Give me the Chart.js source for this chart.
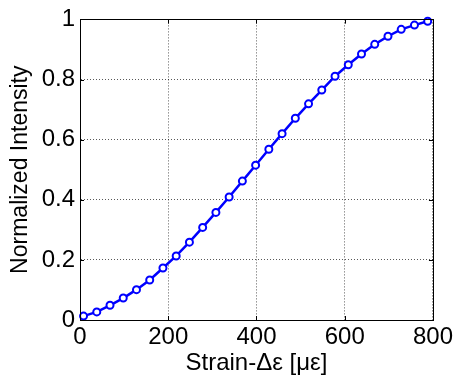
<!DOCTYPE html>
<html>
<head>
<meta charset="utf-8">
<script src="https://cdn.jsdelivr.net/npm/chart.js@4/dist/chart.umd.min.js"></script>
<style>
  html, body { margin: 0; padding: 0; background: #fff; }
  #wrap { width: 456px; height: 378px; }
</style>
</head>
<body>
<div id="wrap"><canvas id="c"></canvas></div>
<script>
// strain (µε) vs normalized intensity
const strain = [8, 38, 68, 98, 128, 158, 188, 218, 248, 278, 308, 338, 368, 398,
  428, 458, 488, 518, 548, 578, 608, 638, 668, 698, 728, 758, 788];
const intensity = [0.013, 0.027, 0.049, 0.073, 0.101, 0.133, 0.173, 0.213, 0.259,
  0.308, 0.358, 0.409, 0.462, 0.515, 0.568, 0.620, 0.671, 0.719, 0.765, 0.811,
  0.849, 0.885, 0.917, 0.944, 0.967, 0.981, 0.994];
const xTicks = [0, 200, 400, 600, 800];
const yTicks = [0, 0.2, 0.4, 0.6, 0.8, 1];

const BLUE = "#0000ff";
const FONT = { family: "'Liberation Sans', Arial, sans-serif", size: 24 };
const TITLE_FONT = { family: "'Liberation Sans', Arial, sans-serif", size: 23 };

// MATLAB-style box with inward tick marks
const boxPlugin = {
  id: "box",
  afterDatasetsDraw(chart) {
    const { ctx, chartArea: a, scales } = chart;
    ctx.save();
    ctx.strokeStyle = "#000";
    ctx.lineWidth = 1;
    ctx.setLineDash([]);
    ctx.strokeRect(Math.round(a.left) + 0.5, Math.round(a.top) + 0.5,
      Math.round(a.right - a.left), Math.round(a.bottom - a.top));
    ctx.beginPath();
    const len = 4;
    xTicks.forEach(v => {
      const x = Math.round(scales.x.getPixelForValue(v)) + 0.5;
      ctx.moveTo(x, a.bottom); ctx.lineTo(x, a.bottom - len);
      ctx.moveTo(x, a.top); ctx.lineTo(x, a.top + len);
    });
    yTicks.forEach(v => {
      const y = Math.round(scales.y.getPixelForValue(v)) + 0.5;
      ctx.moveTo(a.left, y); ctx.lineTo(a.left + len, y);
      ctx.moveTo(a.right, y); ctx.lineTo(a.right - len, y);
    });
    ctx.stroke();
    ctx.restore();
  },
  beforeDatasetsDraw(chart) {
    // redraw box before data too, so markers sit on top of it
    this.afterDatasetsDraw(chart);
  }
};

const gridOpts = { color: "rgba(0,0,0,0.65)", lineWidth: 1, drawTicks: false };
const borderOpts = { display: true, color: "#000", dash: [1, 2] };

new Chart(document.getElementById("c"), {
  type: "scatter",
  data: {
    datasets: [{
      data: strain.map((x, i) => ({ x, y: intensity[i] })),
      showLine: true,
      borderColor: BLUE,
      borderWidth: 2.5,
      pointRadius: 3.5,
      pointBorderWidth: 2,
      pointBackgroundColor: "#fff",
      pointBorderColor: BLUE,
      clip: false,
    }],
  },
  options: {
    responsive: true, maintainAspectRatio: false, animation: false,
    layout: { padding: { top: 15, right: 22, left: 0, bottom: 0 } },
    plugins: { legend: { display: false }, tooltip: { enabled: false } },
    scales: {
      x: {
        type: "linear", min: 0, max: 800,
        afterBuildTicks: s => { s.ticks = xTicks.map(v => ({ value: v })); },
        afterFit: s => { s.height = 58; },
        ticks: { color: "#000", font: FONT, padding: 3, maxRotation: 0 },
        grid: { ...gridOpts },
        border: { ...borderOpts },
        title: { display: true, text: "Strain-Δε [με]", color: "#000", font: FONT, padding: { top: 0, bottom: 0 } },
      },
      y: {
        type: "linear", min: 0, max: 1,
        afterBuildTicks: s => { s.ticks = yTicks.map(v => ({ value: v })); },
        afterFit: s => { s.width = 80; },
        ticks: { color: "#000", font: FONT, padding: 5, callback: v => String(v) },
        grid: { ...gridOpts },
        border: { ...borderOpts },
        title: { display: true, text: "Normalized Intensity", color: "#000", font: TITLE_FONT, padding: { top: 7, bottom: 0 } },
      },
    },
  },
  plugins: [boxPlugin],
});
</script>
</body>
</html>
